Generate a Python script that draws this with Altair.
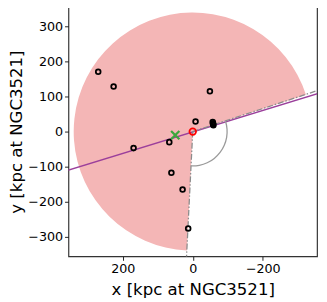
import math
import altair as alt
import pandas as pd

# ---- data (kpc at NGC3521) ----
sat_x = [270, 226, -49, -8, -57, -58, -58, -59, 67, 169, 61, 29, 13]
sat_y = [170, 128, 115, 29, 27, 24, 21, 18, -30, -47, -117, -165, -276]

host_x = [0]
host_y = [0]

cen_x = [50]
cen_y = [-10]

# shaded wedge and small angle arc (degrees, clockwise from up, as drawn)
wedge_start_deg = [182.8]
wedge_end_deg = [432.0]
wedge_radius = [340]
arc_start_deg = [72.0]
arc_end_deg = [182.8]
arc_radius = [100]

# dash-dot boundary lines (from centre outwards)
edge_a_x = [0, -360]
edge_a_y = [0, 118]
edge_b_x = [0, 18]
edge_b_y = [0, -360]

# plane fit line
plane_x = [360, -360]
plane_y = [-111, 109]

x_ticks = [200, 0, -200]
y_ticks = [-300, -200, -100, 0, 100, 200, 300]

W = 255
H = 256
LIM = 355

xs = alt.Scale(domain=[LIM, -LIM], nice=False, zero=False)
ys = alt.Scale(domain=[-LIM, LIM], nice=False, zero=False)
rs = alt.Scale(type="linear", domain=[0, 2 * LIM], range=[0, W], zero=True)

xax = alt.Axis(values=x_ticks, title="x [kpc at NGC3521]", labelPadding=3, titlePadding=6)
yax = alt.Axis(values=y_ticks, title="y [kpc at NGC3521]", labelPadding=2, titlePadding=2)

wedge_df = pd.DataFrame({
    "x": host_x, "y": host_y,
    "t1": [math.radians(v) for v in wedge_start_deg],
    "t2": [math.radians(v) for v in wedge_end_deg],
    "r": wedge_radius,
})
arc_df = pd.DataFrame({
    "x": host_x, "y": host_y,
    "t1": [math.radians(v) for v in arc_start_deg],
    "t2": [math.radians(v) for v in arc_end_deg],
    "r": arc_radius,
})
edge_a_df = pd.DataFrame({"x": edge_a_x, "y": edge_a_y, "o": [0, 1]})
edge_b_df = pd.DataFrame({"x": edge_b_x, "y": edge_b_y, "o": [0, 1]})
plane_df = pd.DataFrame({"x": plane_x, "y": plane_y, "o": [0, 1]})
sat_df = pd.DataFrame({"x": sat_x, "y": sat_y})
host_df = pd.DataFrame({"x": host_x, "y": host_y})
cen_df = pd.DataFrame({"x": cen_x, "y": cen_y})

X = alt.X("x:Q", scale=xs, axis=xax)
Y = alt.Y("y:Q", scale=ys, axis=yax)

wedge = alt.Chart(wedge_df).mark_arc(color="#f4b6b6", opacity=1).encode(
    x=X, y=Y,
    theta=alt.Theta("t1:Q", scale=None),
    theta2=alt.Theta2("t2:Q"),
    radius=alt.Radius("r:Q", scale=rs),
)

arc = alt.Chart(arc_df).mark_arc(color="#9a9a9a").encode(
    x=X, y=Y,
    theta=alt.Theta("t1:Q", scale=None),
    theta2=alt.Theta2("t2:Q"),
    radius=alt.Radius("r:Q", scale=rs),
    radius2=alt.value(100 * W / (2 * LIM) - 1.3),
)

plane = alt.Chart(plane_df).mark_line(color="#9b3f9b", strokeWidth=1.5, clip=True).encode(
    x=X, y=Y, order="o:Q"
)

dash = [6, 2, 1.5, 2]
edge_a = alt.Chart(edge_a_df).mark_line(color="#8c8c8c", strokeWidth=1.3, strokeDash=dash, clip=True).encode(
    x=X, y=Y, order="o:Q"
)
edge_b = alt.Chart(edge_b_df).mark_line(color="#8c8c8c", strokeWidth=1.3, strokeDash=dash, clip=True).encode(
    x=X, y=Y, order="o:Q"
)

sats = alt.Chart(sat_df).mark_point(shape="circle", size=24, strokeWidth=1.8, color="black", filled=False, opacity=1).encode(
    x=X, y=Y
)
host = alt.Chart(host_df).mark_point(shape="circle", size=46, strokeWidth=1.8, color="red", filled=False, opacity=1).encode(
    x=X, y=Y
)
cen = alt.Chart(cen_df).mark_point(shape="M-1,-1L1,1M-1,1L1,-1", size=72, strokeWidth=2.3, color="#3da63d", filled=False, opacity=1).encode(
    x=X, y=Y
)

chart = alt.layer(wedge, plane, edge_a, edge_b, arc, sats, host, cen).properties(
    width=W, height=H, padding={"left": 0, "top": -5, "right": 2, "bottom": 0}
).configure_view(stroke="#333333", strokeWidth=1.2).configure_axis(
    grid=False, domain=False, ticks=True, tickSize=4, tickColor="#222222", tickWidth=1,
    labelFont="DejaVu Sans", labelFontSize=13, labelColor="black",
    titleFont="DejaVu Sans", titleFontSize=17, titleFontWeight="normal", titleColor="black",
)

chart.save("out.html", embed_options={"renderer": "svg", "actions": False})
